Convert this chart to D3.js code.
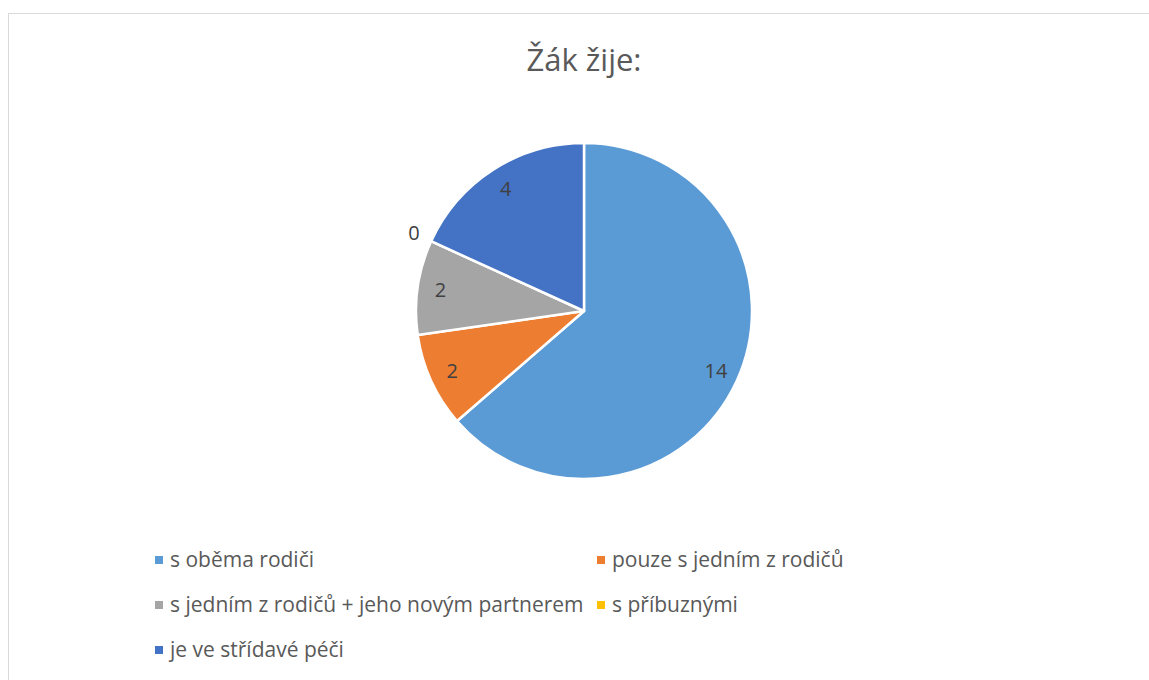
<!DOCTYPE html>
<html>
<head>
<meta charset="utf-8">
<script src="https://cdnjs.cloudflare.com/ajax/libs/d3/7.8.5/d3.min.js"></script>
<style>
    body { margin: 0; background: #fff; }
    svg { display: block; font-family: "Open Sans", "Noto Sans", sans-serif; }
</style>
</head>
<body>
<svg id="chart" width="1149" height="680"></svg>
<script>
// Данные графика
const TITLE = 'Žák žije:';
const CATEGORIES = [
    's oběma rodiči',
    'pouze s jedním z rodičů',
    's jedním z rodičů + jeho novým partnerem',
    's příbuznými',
    'je ve střídavé péči'
];
const VALUES = [14, 2, 2, 0, 4];
const COLORS = ['#5B9BD5', '#ED7D31', '#A5A5A5', '#FFC000', '#4472C4'];

const width = 1149, height = 680;
const cx = 584, cy = 311, radius = 168;

const svg = d3.select('#chart');

// Рамка области диаграммы
svg.append('rect')
    .attr('x', 8.5)
    .attr('y', 13.5)
    .attr('width', width + 20)
    .attr('height', height + 20)
    .attr('fill', 'none')
    .attr('stroke', '#d9d9d9')
    .attr('stroke-width', 1);

// Заголовок
svg.append('text')
    .attr('x', 584)
    .attr('y', 71)
    .attr('text-anchor', 'middle')
    .attr('font-size', 31)
    .attr('fill', '#595959')
    .text(TITLE);

const color = d3.scaleOrdinal().domain(CATEGORIES).range(COLORS);

const pie = d3.pie().sort(null).value(d => d.value);
const arcs = pie(CATEGORIES.map((c, i) => ({ name: c, value: VALUES[i] })));

const arc = d3.arc().innerRadius(0).outerRadius(radius);
const labelArc = d3.arc().innerRadius(145).outerRadius(145);
const outerLabelArc = d3.arc().innerRadius(187).outerRadius(187);

const g = svg.append('g').attr('transform', `translate(${cx},${cy})`);

g.selectAll('path')
    .data(arcs)
    .enter()
    .append('path')
    .attr('d', arc)
    .attr('fill', d => color(d.data.name))
    .attr('stroke', '#fff')
    .attr('stroke-width', 2.5)
    .attr('stroke-linejoin', 'round');

// Подписи значений
g.selectAll('.val')
    .data(arcs)
    .enter()
    .append('text')
    .attr('class', 'val')
    .attr('transform', d => {
        const p = (d.value === 0 ? outerLabelArc : labelArc).centroid(d);
        return `translate(${p[0]},${p[1]})`;
    })
    .attr('text-anchor', 'middle')
    .attr('dy', '0.35em')
    .attr('font-size', 20)
    .attr('fill', '#404040')
    .text(d => d.data.value);

// Легенда
const legendPos = [
    [155, 560], [597, 560],
    [155, 605], [597, 605],
    [155, 650]
];

const legend = svg.selectAll('.legend')
    .data(CATEGORIES)
    .enter()
    .append('g')
    .attr('class', 'legend')
    .attr('transform', (d, i) => `translate(${legendPos[i][0]},${legendPos[i][1]})`);

legend.append('rect')
    .attr('x', 0)
    .attr('y', -4)
    .attr('width', 8)
    .attr('height', 8)
    .attr('fill', d => color(d));

legend.append('text')
    .attr('x', 15)
    .attr('y', 0)
    .attr('dy', '0.35em')
    .attr('font-size', 21)
    .attr('fill', '#595959')
    .text(d => d);
</script>
</body>
</html>
